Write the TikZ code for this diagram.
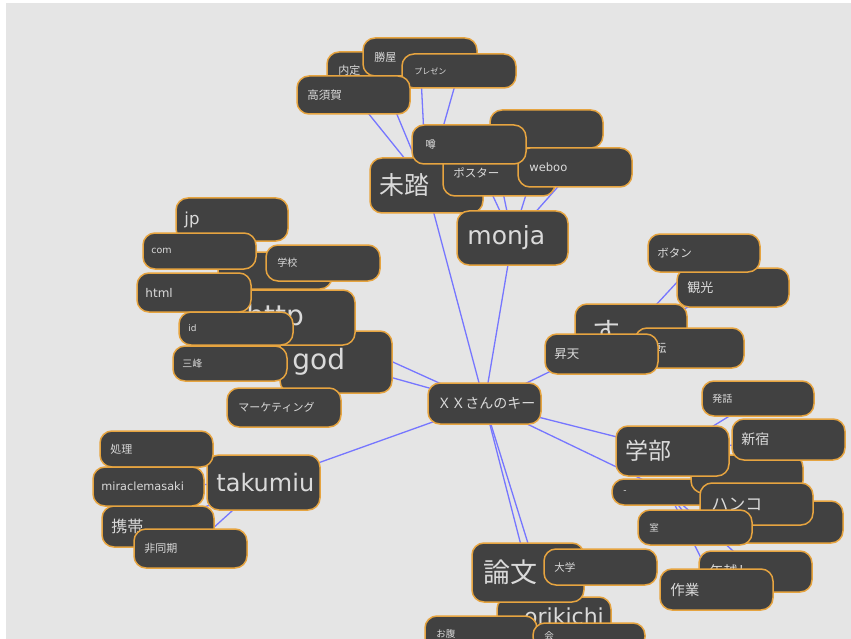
\documentclass[tikz,border=0pt]{standalone}
\usepackage{fontspec}
\setmainfont{DejaVu Sans}
\newfontfamily\jp{Noto Sans CJK JP}
\definecolor{kbg}{HTML}{E5E5E5}
\definecolor{kfill}{HTML}{414141}
\definecolor{korange}{HTML}{E6A440}
\definecolor{ktext}{HTML}{DADADA}
\definecolor{kblue}{HTML}{7676FF}
\pgfdeclarelayer{bg}
\pgfsetlayers{bg,main}
\tikzset{
  kbox/.style={draw=korange, fill=kfill, line width=1.5pt, rounded corners=12pt, inner sep=0pt},
  ktxt/.style={text=ktext, inner sep=0pt},
  link/.style={draw=kblue, line width=1.3pt}
}
% name, x1, y1, x2, y2, font, size, pad, text
\newcommand\kb[9]{%
  \pgfmathsetmacro\kbw{#4-#2}\pgfmathsetmacro\kbh{#5-#3}%
  \node[kbox, minimum width=\kbw pt, minimum height=\kbh pt] (#1) at ({(#2+#4)/2},{(#3+#5)/2}) {};
  \node[ktxt, anchor=west, font=#6\fontsize{#7}{#7}\selectfont] (#1-t) at ([xshift=#8pt]#1.west) {#9};
}
\begin{document}
\begin{tikzpicture}[x=1pt,y=-1pt]
\useasboundingbox (0,0) rectangle (851,639);
\begin{pgfonlayer}{bg}
\fill[white] (0,0) rectangle (851,639);
\fill[kbg] (6,3) rectangle (851,639);
\end{pgfonlayer}

% top cluster
\kb{naitei}{327}{52}{430}{88}{\jp}{11}{12}{内定}
\kb{katsuya}{363}{38}{477}{76}{\jp}{11}{12}{勝屋}
\kb{purezen}{402}{54}{516}{88}{\jp}{8}{13}{プレゼン}
\kb{takasuka}{297}{76}{410}{114}{\jp}{11.5}{11}{高須賀}
\kb{mitou}{370}{158}{483}{213}{\jp}{25}{10}{未踏}
\kb{hidtop}{490}{110}{603}{148}{\jp}{10}{12}{}
\kb{posuta}{443}{150}{555}{196}{\jp}{11.5}{11}{ポスター}
\kb{weboo}{518}{148}{632}{187}{}{11.5}{12}{weboo}
\kb{uwasa}{412}{125}{526}{164}{\jp}{10.5}{14}{噂}
\kb{monja}{457}{211}{568}{265}{}{25}{11}{monja}

% left cluster
\kb{god}{280}{331}{392}{393}{}{28}{13}{god}
\kb{hidL}{218}{252}{332}{289}{\jp}{10}{12}{}
\kb{http}{234}{290}{355}{345}{}{28}{13}{http}
\kb{jp}{176}{198}{288}{241}{}{16.5}{9}{jp}
\kb{com}{143}{233}{256}{269}{}{9.5}{9}{com}
\kb{gakkou}{266}{245}{380}{281}{\jp}{10}{12}{学校}
\kb{html}{137}{273}{251}{312}{}{12}{9}{html}
\kb{id}{179}{312}{293}{345}{}{9}{10}{id}
\kb{sanpou}{173}{346}{287}{381}{\jp}{10}{10}{三峰}
\kb{marke}{227}{388}{341}{427}{\jp}{11}{12}{マーケティング}

% right cluster
\kb{su}{575}{304}{687}{360}{\jp}{28}{18}{す}
\kb{ten}{635}{328}{744}{368}{\jp}{12}{20}{転}
\kb{shoten}{545}{334}{658}{374}{\jp}{12.5}{10}{昇天}
\kb{kankou}{677}{268}{789}{307}{\jp}{13}{11}{観光}
\kb{botan}{648}{234}{760}{272}{\jp}{11.5}{10}{ボタン}

\kb{dash}{612}{479}{725}{505}{}{9}{12}{-}
\kb{hidA}{691}{455}{803}{493}{\jp}{10}{12}{}
\kb{hatsuwa}{702}{381}{814}{416}{\jp}{10}{11}{発話}
\kb{shinjuku}{732}{419}{845}{460}{\jp}{14}{10}{新宿}
\kb{gakubu}{616}{426}{729}{476}{\jp}{23}{10}{学部}
\kb{hidB}{730}{501}{843}{543}{\jp}{10}{12}{}
\kb{hanko}{700}{483}{813}{525}{\jp}{17}{12}{ハンコ}
\kb{shitsu}{638}{510}{752}{545}{\jp}{9.5}{12}{室}
\kb{toshikoshi}{699}{551}{812}{592}{\jp}{14}{11}{年越し}
\kb{sagyou}{660}{569}{773}{610}{\jp}{14.5}{11}{作業}

% bottom-left cluster
\kb{takumiu}{207}{455}{320}{510}{}{24}{10}{takumiu}
\kb{shori}{100}{431}{213}{467}{\jp}{11}{11}{処理}
\kb{keitai}{102}{506}{214}{547}{\jp}{16}{10}{携帯}
\kb{mira}{93}{467}{204}{506}{}{11.3}{9}{miraclemasaki}
\kb{hidouki}{134}{529}{247}{568}{\jp}{11}{11}{非同期}

% bottom cluster
\node[kbox, minimum width=114pt, minimum height=60pt] (orikichi) at (554,627) {};
\node[ktxt, anchor=base west, font=\fontsize{22}{22}\selectfont] (orikichi-t) at (524,624) {orikichi};
\kb{ronbun}{472}{543}{584}{602}{\jp}{27}{12}{論文}
\kb{daigaku}{544}{549}{657}{585}{\jp}{10.5}{11}{大学}
\kb{onaka}{425}{616}{537}{652}{\jp}{9.5}{12}{お腹}
\kb{kai}{533}{623}{645}{649}{\jp}{9.5}{12}{会}

% hub
\kb{hub}{428}{383}{541}{424}{\jp}{14}{10}{ＸＸさんのキー}

\begin{pgfonlayer}{bg}
\foreach \a in {mitou,monja,god,http,takumiu,su,gakubu,dash,ronbun,orikichi}
  \draw[link] (hub.center) -- (\a.center);
\foreach \a in {naitei,katsuya,purezen,takasuka}
  \draw[link] (\a.center) -- (mitou.center);
\foreach \a in {uwasa,posuta,hidtop,weboo}
  \draw[link] (\a.center) -- (monja.center);
\foreach \a in {jp,com,html,id,gakkou,hidL}
  \draw[link] (\a.center) -- (http.center);
\foreach \a in {sanpou,marke}
  \draw[link] (\a.center) -- (god.center);
\foreach \a in {shori,mira,keitai,hidouki}
  \draw[link] (\a.center) -- (takumiu.center);
\foreach \a in {botan,kankou,ten,shoten}
  \draw[link] (\a.center) -- (su.center);
\foreach \a in {hatsuwa,shinjuku,hidA}
  \draw[link] (\a.center) -- (gakubu.center);
\foreach \a in {hanko,hidB,shitsu,toshikoshi,sagyou}
  \draw[link] (\a.center) -- (dash.center);
\draw[link] (daigaku.center) -- (ronbun.center);
\foreach \a in {onaka,kai}
  \draw[link] (\a.center) -- (orikichi.center);
\end{pgfonlayer}
\end{tikzpicture}
\end{document}
